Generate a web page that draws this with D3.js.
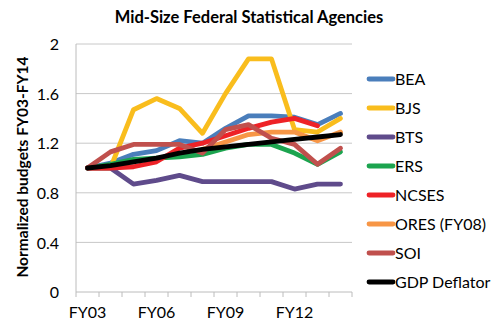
<!DOCTYPE html>
<html>
<head>
<meta charset="utf-8">
<script src="https://cdn.jsdelivr.net/npm/d3@7"></script>
<style>
  body { margin: 0; background: white; }
  text { font-family: Lato, "Open Sans", sans-serif; fill: #000; }
  .grid line { stroke: #c8c8c8; stroke-width: 1; }
  .domain { stroke: #bcbcbc; }
</style>
</head>
<body>
<script>
// fiscal years on the x axis
var years = ["FY03", "FY04", "FY05", "FY06", "FY07", "FY08", "FY09", "FY10", "FY11", "FY12", "FY13", "FY14"];
var xTickLabels = ["FY03", "FY06", "FY09", "FY12"];
var yTicks = [0, 0.4, 0.8, 1.2, 1.6, 2];

// normalized budgets (null = no data)
var bea   = [1.00, 1.04, 1.11, 1.14, 1.22, 1.20, 1.32, 1.42, 1.42, 1.41, 1.35, 1.44];
var bjs   = [1.00, 1.00, 1.47, 1.56, 1.48, 1.28, 1.60, 1.88, 1.88, 1.31, 1.29, 1.40];
var bts   = [1.00, 1.00, 0.87, 0.90, 0.94, 0.89, 0.89, 0.89, 0.89, 0.83, 0.87, 0.87];
var ers   = [1.00, 1.03, 1.07, 1.08, 1.09, 1.11, 1.16, 1.19, 1.19, 1.12, 1.03, 1.13];
var ncses = [1.00, 1.00, 1.01, 1.05, 1.16, 1.20, 1.26, 1.32, 1.37, 1.40, 1.34, null];
var ores  = [null, null, null, null, null, 1.15, 1.21, 1.27, 1.29, 1.29, 1.22, 1.29];
var soi   = [1.00, 1.13, 1.19, 1.19, 1.19, 1.12, 1.31, 1.35, 1.24, 1.19, 1.03, 1.16];
var gdp   = [1.00, 1.02, 1.05, 1.08, 1.12, 1.15, 1.17, 1.19, 1.21, 1.23, 1.25, 1.27];

var series = [
  { name: "BEA", values: bea, color: "#4a7ebb" },
  { name: "BJS", values: bjs, color: "#f9bd1d" },
  { name: "BTS", values: bts, color: "#5f4b8b" },
  { name: "ERS", values: ers, color: "#1ca44f" },
  { name: "NCSES", values: ncses, color: "#ee2227" },
  { name: "ORES (FY08)", values: ores, color: "#f79646" },
  { name: "SOI", values: soi, color: "#c0504d" },
  { name: "GDP Deflator", values: gdp, color: "#000000" }
];

var width = 500, height = 327;
var plot = { left: 76, right: 352, top: 44, bottom: 292 };

var svg = d3.select("body").append("svg")
  .attr("width", width)
  .attr("height", height);

var x = d3.scalePoint()
  .domain(years)
  .range([plot.left, plot.right])
  .padding(0.5);

var step = x.step();

var y = d3.scaleLinear()
  .domain([0, 2])
  .range([plot.bottom, plot.top]);

// title
svg.append("text")
  .attr("x", 249)
  .attr("y", 23)
  .attr("text-anchor", "middle")
  .style("font-size", "16.5px")
  .style("font-weight", "bold")
  .text("Mid-Size Federal Statistical Agencies");

// gridlines
svg.append("g")
  .attr("class", "grid")
  .selectAll("line")
  .data(yTicks.filter(function(d) { return d > 0; }))
  .enter().append("line")
  .attr("x1", plot.left)
  .attr("x2", plot.right)
  .attr("y1", function(d) { return y(d); })
  .attr("y2", function(d) { return y(d); });

// y axis
var yAxis = svg.append("g")
  .attr("transform", "translate(" + plot.left + ",0)")
  .call(d3.axisLeft(y).tickValues(yTicks).tickSize(0).tickPadding(17)
    .tickFormat(function(d) { return d === 0 ? "0" : d3.format("")(d); }));
yAxis.select(".domain").remove();
yAxis.append("line")
  .attr("y1", plot.top).attr("y2", plot.bottom)
  .style("stroke", "#bcbcbc");
yAxis.selectAll("text").style("font-size", "16px").attr("dy", "0.35em");

// x axis - tick marks at category boundaries
var bounds = d3.range(years.length + 1).map(function(i) { return plot.left + i * step; });
var xAxis = svg.append("g");
xAxis.append("line")
  .attr("x1", plot.left).attr("x2", plot.right)
  .attr("y1", plot.bottom).attr("y2", plot.bottom)
  .style("stroke", "#bcbcbc");
xAxis.selectAll(".xtick")
  .data(bounds)
  .enter().append("line")
  .attr("class", "xtick")
  .attr("x1", function(d) { return d; })
  .attr("x2", function(d) { return d; })
  .attr("y1", plot.bottom)
  .attr("y2", plot.bottom + 5)
  .style("stroke", "#bcbcbc");
xAxis.selectAll(".xlabel")
  .data(xTickLabels)
  .enter().append("text")
  .attr("class", "xlabel")
  .attr("x", function(d) { return x(d); })
  .attr("y", 318)
  .attr("text-anchor", "middle")
  .style("font-size", "16px")
  .text(function(d) { return d; });

// y axis title
svg.append("text")
  .attr("transform", "translate(28," + ((plot.top + plot.bottom) / 2 - 1) + ") rotate(-90)")
  .attr("text-anchor", "middle")
  .style("font-size", "15.5px")
  .style("font-weight", "bold")
  .text("Normalized budgets FY03-FY14");

// lines
var line = d3.line()
  .defined(function(d) { return d.v != null; })
  .x(function(d) { return x(d.year); })
  .y(function(d) { return y(d.v); });

svg.append("g")
  .selectAll("path")
  .data(series)
  .enter().append("path")
  .attr("fill", "none")
  .attr("stroke", function(d) { return d.color; })
  .attr("stroke-width", 4.8)
  .attr("stroke-linejoin", "round")
  .attr("stroke-linecap", "round")
  .attr("d", function(s) {
    return line(s.values.map(function(v, i) { return { year: years[i], v: v }; }));
  });

// legend
var legend = svg.append("g")
  .attr("transform", "translate(369,79)");

var rows = legend.selectAll("g")
  .data(series)
  .enter().append("g")
  .attr("transform", function(d, i) { return "translate(0," + (i * 29) + ")"; });

rows.append("line")
  .attr("x1", 0).attr("x2", 24)
  .attr("stroke", function(d) { return d.color; })
  .attr("stroke-width", 4.8)
  .attr("stroke-linecap", "round");

rows.append("text")
  .attr("x", 26)
  .attr("dy", "0.35em")
  .style("font-size", "16px")
  .text(function(d) { return d.name; });
</script>
</body>
</html>
